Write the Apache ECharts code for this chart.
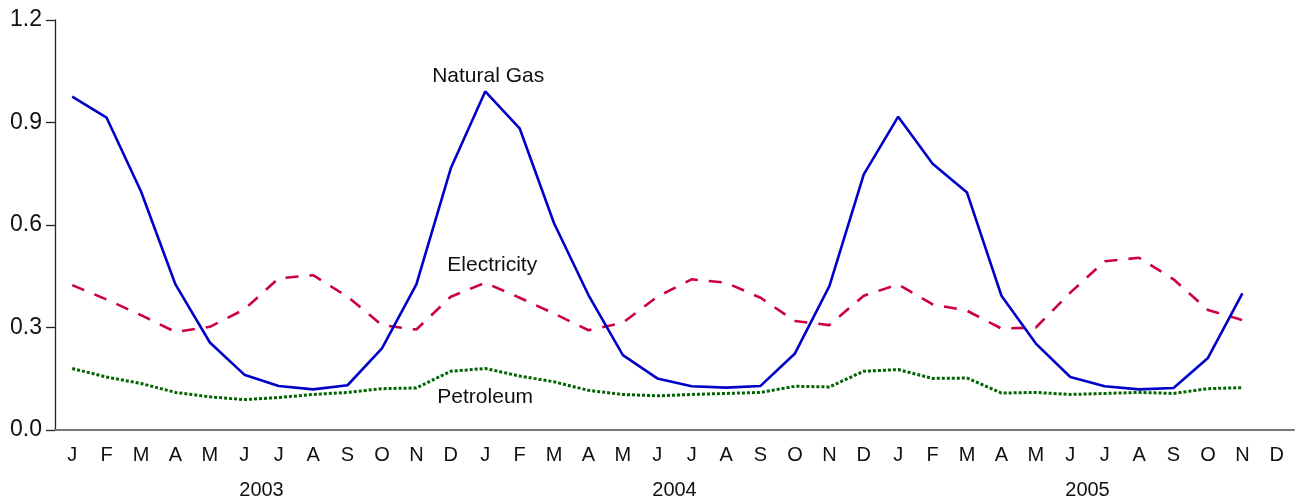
<!DOCTYPE html>
<html>
<head>
<meta charset="utf-8">
<script src="https://cdn.jsdelivr.net/npm/echarts@6/dist/echarts.min.js"></script>
<style>html,body{margin:0;padding:0;background:#fff}#c{width:1299px;height:502px}</style>
</head>
<body>
<div id="c"></div>
<script>
const months = ['J','F','M','A','M','J','J','A','S','O','N','D',
                'J','F','M','A','M','J','J','A','S','O','N','D',
                'J','F','M','A','M','J','J','A','S','O','N','D'];
const years = ['2003','2004','2005'];
const naturalGas = [0.976,0.914,0.698,0.426,0.256,0.162,0.129,0.119,0.131,0.239,0.426,0.766,
                    0.991,0.883,0.605,0.395,0.219,0.151,0.128,0.124,0.129,0.224,0.421,0.748,
                    0.917,0.779,0.695,0.393,0.253,0.155,0.128,0.119,0.123,0.211,0.400];
const electricity = [0.424,0.382,0.336,0.287,0.302,0.353,0.444,0.453,0.390,0.307,0.294,0.390,
                     0.431,0.387,0.341,0.292,0.314,0.390,0.441,0.431,0.387,0.319,0.307,0.393,
                     0.426,0.368,0.349,0.297,0.300,0.402,0.494,0.504,0.441,0.351,0.322];
const petroleum = [0.180,0.155,0.136,0.110,0.097,0.089,0.095,0.104,0.110,0.121,0.123,0.172,
                   0.180,0.158,0.141,0.116,0.104,0.100,0.104,0.107,0.110,0.128,0.126,0.172,
                   0.177,0.151,0.152,0.108,0.110,0.104,0.107,0.110,0.107,0.121,0.124];
const seriesLabels = [
  {name:'Natural Gas', month: 12, value: 1.036, dx: 3},
  {name:'Electricity', month: 12, value: 0.483, dx: 7},
  {name:'Petroleum', month: 12, value: 0.095, dx: 0}
];

const chart = echarts.init(document.getElementById('c'), null, {renderer:'canvas'});
const font = 'Liberation Sans, Arial, sans-serif';
chart.setOption({
  animation: false,
  grid: {left: 55, right: 5, top: 20, bottom: 72, outerBoundsMode: 'none', containLabel: false},
  xAxis: [{
    type: 'category', data: months, boundaryGap: true, position: 'bottom',
    axisLine: {lineStyle: {color: '#777', width: 2}},
    axisTick: {alignWithLabel: true, length: 9, lineStyle: {color: '#222', width: 1.3}},
    axisLabel: {color: '#111', fontSize: 20, fontFamily: font, margin: 15, interval: 0},
    splitLine: {show: false}
  }, {
    type: 'category', data: years, boundaryGap: true, position: 'bottom', offset: 36,
    axisLine: {show: false}, axisTick: {show: false},
    axisLabel: {color: '#111', fontSize: 20, fontFamily: font, margin: 14},
    splitLine: {show: false}
  }],
  yAxis: {
    type: 'value', min: 0, max: 1.2, interval: 0.3,
    axisLine: {show: true, lineStyle: {color: '#222', width: 1.3}},
    axisTick: {show: true, length: 9, lineStyle: {color: '#222', width: 1.3}},
    axisLabel: {color: '#111', fontSize: 23, fontFamily: font, margin: 13,
      formatter: v => v.toFixed(1)},
    splitLine: {show: false}
  },
  series: [
    {name: 'Natural Gas', type: 'line', data: naturalGas, showSymbol: false, symbol: 'none',
     lineStyle: {color: '#0000c8', width: 2.6}, z: 3},
    {name: 'Electricity', type: 'line', data: electricity, showSymbol: false, symbol: 'none',
     lineStyle: {color: '#cc0044', width: 2.6, type: [13, 11]}, z: 2},
    {name: 'Petroleum', type: 'line', data: petroleum, showSymbol: false, symbol: 'none',
     lineStyle: {color: '#006400', width: 3, type: [3, 2]}, z: 1},
    {type: 'scatter', data: seriesLabels.map(s => [s.month, s.value]), symbolSize: 1,
     silent: true, itemStyle: {opacity: 0},
     labelLayout: {},
     label: {show: true, position: 'inside', color: '#111', opacity: 1, fontSize: 21, fontFamily: font,
       formatter: p => seriesLabels[p.dataIndex].name}}
  ]
});
// shift labels horizontally per item
chart.setOption({series: [{}, {}, {}, {data: seriesLabels.map(s => ({value: [s.month, s.value],
  label: {offset: [s.dx, 0]}}))}]});
</script>
</body>
</html>
